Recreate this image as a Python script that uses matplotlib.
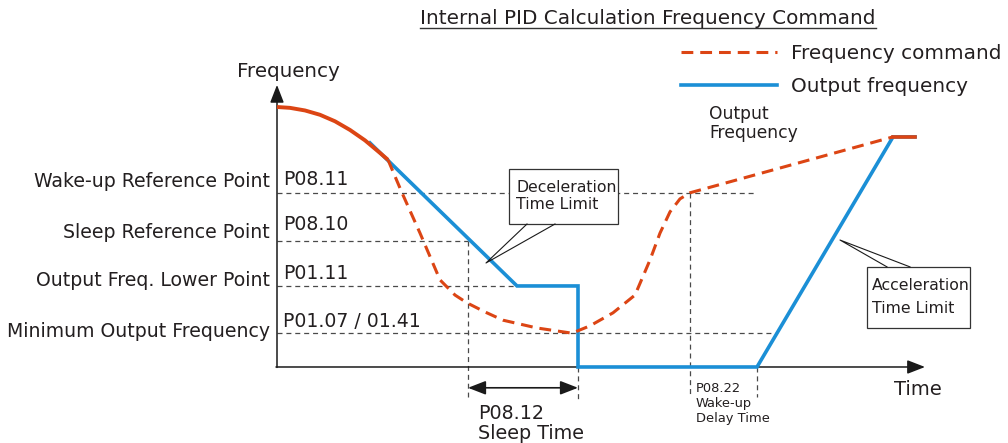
import matplotlib
matplotlib.use('Agg')
import matplotlib.pyplot as plt
from matplotlib.patches import Rectangle

plt.rcParams['font.family'] = ['DejaVu Sans']
plt.rcParams['lines.scale_dashes'] = False

# Frequency command (Hz) versus time (s)
cmd_t_start = [0.0, 1.3, 2.8, 4.3, 5.8, 7.3, 8.8, 10.3, 11.1]
cmd_f_start = [60.0, 59.8, 59.2, 58.2, 56.7, 54.7, 52.3, 49.4, 47.8]
cmd_t_pid = [11.1, 12.5, 14.3, 16.3, 17.8, 19.0, 20.8, 22.6, 26.0, 29.5,
             31.3, 33.6, 35.8, 37.3, 38.3, 39.3, 40.3, 41.3, 61.6]
cmd_f_pid = [47.8, 40.2, 30.9, 20.1, 16.6, 14.8, 12.7, 10.8, 9.0, 7.8,
             9.5, 12.5, 16.6, 24.7, 30.9, 35.8, 38.8, 40.2, 53.1]
cmd_t_end = [61.6, 63.8]
cmd_f_end = [53.1, 53.1]

# Output frequency (Hz) versus time (s)
out_t = [9.3, 24.0, 30.1, 30.1, 48.0, 61.6, 63.8]
out_f = [51.7, 18.7, 18.7, 0.0, 0.0, 53.1, 53.1]

# Reference levels
level_names = ['Wake-up Reference Point', 'Sleep Reference Point',
               'Output Freq. Lower Point', 'Minimum Output Frequency']
level_params = ['P08.11', 'P08.10', 'P01.11', 'P01.07 / 01.41']
level_f = [40.2, 29.1, 18.7, 7.8]
level_end_t = [48.0, 19.1, 24.0, 50.0]

# Event times (s)
sleep_start_t = 19.1
sleep_end_t = 30.1
wake_detect_t = 41.3
wake_start_t = 48.0

ORANGE = '#dc4514'
BLUE = '#1b8fd6'
TEXT = '#231f20'
REF = '#4a4a4a'

fig = plt.figure(figsize=(10.08, 4.43), dpi=100)
ax = fig.add_axes([0, 0, 1, 1])
ax.set_xlim(-27.7, 73.1)
ax.set_ylim(-17.54, 84.69)
ax.axis('off')

ref_kw = dict(color=REF, lw=0.9, dashes=(3.6, 2.8), zorder=1)

# horizontal reference levels with their labels
name_base = [41.5, 29.7, 18.8, 7.0]
param_base = [42.0, 31.6, 20.3, 9.2]
for name, par, f, t_end, nb, pb in zip(level_names, level_params, level_f,
                                        level_end_t, name_base, param_base):
    ax.plot([0, t_end], [f, f], **ref_kw)
    ax.text(-0.7, nb, name, ha='right', va='baseline', fontsize=13.6, color=TEXT)
    ax.text(0.6, pb, par, ha='left', va='baseline', fontsize=13.6, color=TEXT)

# vertical event markers
ax.plot([sleep_start_t, sleep_start_t], [level_f[1], -7.0], **ref_kw)
ax.plot([sleep_end_t, sleep_end_t], [0, -7.6], **ref_kw)
ax.plot([wake_detect_t, wake_detect_t], [level_f[0], -7.0], **ref_kw)
ax.plot([wake_start_t, wake_start_t], [0, -7.0], **ref_kw)

# axes with arrow heads
arrow_kw = dict(arrowstyle='-|>,head_length=0.9,head_width=0.35', color='#1a1a1a',
                lw=1.1, shrinkA=0, shrinkB=0, mutation_scale=12)
ax.annotate('', xy=(0, 65.1), xytext=(0, -0.1), arrowprops=arrow_kw)
ax.annotate('', xy=(64.8, 0), xytext=(-0.1, 0), arrowprops=arrow_kw)
ax.text(1.1, 68.3, 'Frequency', ha='center', va='center', fontsize=14.3, color=TEXT)
ax.text(61.7, -5.3, 'Time', ha='left', va='center', fontsize=14, color=TEXT)

# sleep time span
ax.annotate('', xy=(sleep_end_t, -4.8), xytext=(sleep_start_t, -4.8),
            arrowprops=dict(arrowstyle='<|-|>,head_length=0.9,head_width=0.35',
                            color='#1a1a1a', lw=1.2, shrinkA=0, shrinkB=0,
                            mutation_scale=12))
ax.text(20.1, -12.0, 'P08.12', ha='left', va='baseline', fontsize=13.8, color=TEXT)
ax.text(20.1, -16.6, 'Sleep Time', ha='left', va='baseline', fontsize=13.8, color=TEXT)

# wake-up delay label
for i, s in enumerate(['P08.22', 'Wake-up', 'Delay Time']):
    ax.text(41.9, -5.7 - 3.45 * i, s, ha='left', va='baseline', fontsize=9.4, color=TEXT)

# curves
h_out, = ax.plot(out_t, out_f, color=BLUE, lw=2.6, solid_joinstyle='miter', zorder=4,
                 label='Output frequency')
ax.plot(cmd_t_start, cmd_f_start, color=ORANGE, lw=2.8, zorder=5,
        solid_capstyle='butt', solid_joinstyle='round')
h_cmd, = ax.plot(cmd_t_pid, cmd_f_pid, color=ORANGE, lw=2.2, dashes=(8.5, 5.0), zorder=5,
                 label='Frequency command')
ax.plot(cmd_t_end, cmd_f_end, color=ORANGE, lw=2.6, zorder=5)

ax.text(43.2, 57.2, 'Output', ha='left', va='baseline', fontsize=12.3, color=TEXT)
ax.text(43.2, 52.8, 'Frequency', ha='left', va='baseline', fontsize=12.3, color=TEXT)

# callout boxes
def callout(x0, x1, y0, y1, base_a, base_b, apex, lines, tx, ty, dy):
    ax.add_patch(Rectangle((x0, y0), x1 - x0, y1 - y0, facecolor='white',
                           edgecolor='#333333', lw=0.9, zorder=3))
    ax.plot([base_a[0], apex[0], base_b[0]], [base_a[1], apex[1], base_b[1]],
            color='#1a1a1a', lw=0.8, zorder=6)
    for i, s in enumerate(lines):
        ax.text(tx, ty - dy * i, s, ha='left', va='baseline', fontsize=11.3,
                color=TEXT, zorder=7)

callout(23.2, 34.1, 33.0, 45.7, (25.0, 33.0), (27.8, 33.0), (20.9, 24.0),
        ['Deceleration', 'Time Limit'], 23.9, 40.3, 3.85)
callout(59.0, 69.3, 9.0, 23.1, (61.0, 23.1), (63.3, 23.1), (56.3, 29.3),
        ['Acceleration', 'Time Limit'], 59.5, 17.8, 5.3)

# title with underline
title = ax.text(14.3, 79.2, 'Internal PID Calculation Frequency Command',
                ha='left', va='baseline', fontsize=14.4, color=TEXT)
fig.canvas.draw()
bb = title.get_window_extent().transformed(ax.transData.inverted())
ax.plot([bb.x0, bb.x1], [78.2, 78.2], color='#333333', lw=1.0)

ax.legend(handles=[h_cmd, h_out], loc='upper left',
          bbox_to_anchor=(681 / 1008, 1 - 44 / 443), bbox_transform=fig.transFigure,
          frameon=False, fontsize=14.4, handlelength=4.8, handletextpad=0.72,
          labelspacing=0.68, borderpad=0, borderaxespad=0, labelcolor=TEXT)

fig.savefig('out.png', dpi=100)
